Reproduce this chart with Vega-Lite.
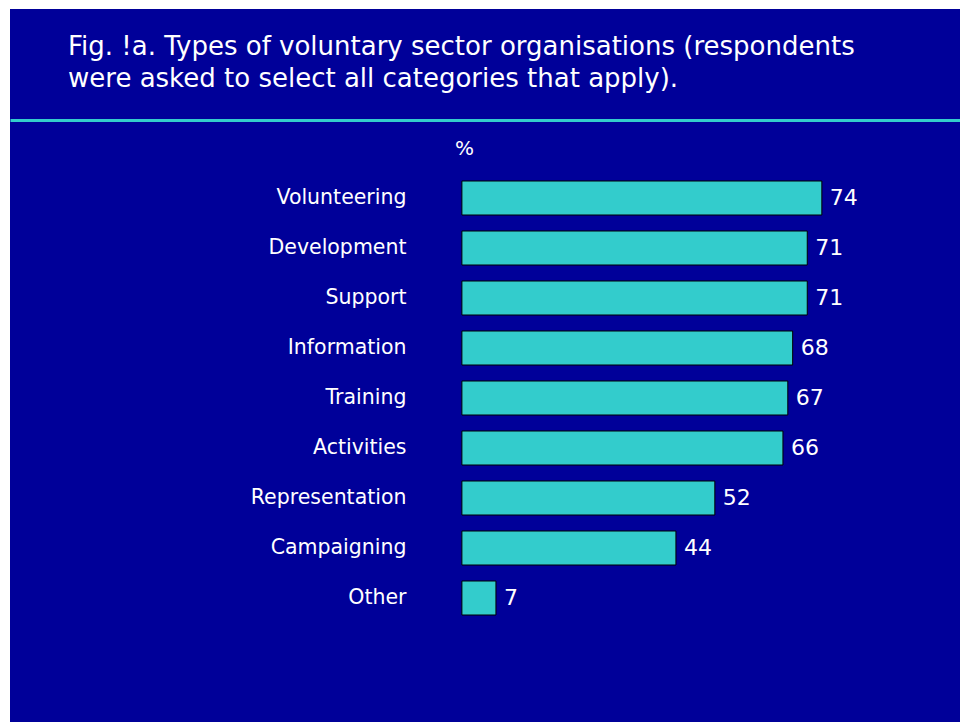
{
  "$schema": "https://vega.github.io/schema/vega-lite/v6.json",
  "width": 950,
  "height": 713,
  "autosize": {"type": "none"},
  "padding": {"left": 10, "top": 9, "right": 0, "bottom": 0},
  "background": "white",
  "config": {
    "view": {"fill": "#000099", "stroke": null},
    "font": "DejaVu Sans"
  },
  "title": {
    "text": ["Fig. !a. Types of voluntary sector organisations (respondents", "were asked to select all categories that apply)."],
    "anchor": "start",
    "orient": "top",
    "frame": "group",
    "baseline": "alphabetic",
    "offset": -104,
    "dx": 58,
    "font": "DejaVu Sans",
    "fontSize": 26,
    "fontWeight": "normal",
    "color": "white",
    "lineHeight": 32
  },
  "data": {
    "values": [
      {"category": "Volunteering", "pct": 74},
      {"category": "Development", "pct": 71},
      {"category": "Support", "pct": 71},
      {"category": "Information", "pct": 68},
      {"category": "Training", "pct": 67},
      {"category": "Activities", "pct": 66},
      {"category": "Representation", "pct": 52},
      {"category": "Campaigning", "pct": 44},
      {"category": "Other", "pct": 7}
    ]
  },
  "encoding": {
    "y": {
      "field": "category",
      "type": "nominal",
      "sort": null,
      "scale": {"range": [164, 614], "paddingInner": 0.32, "paddingOuter": 0.16},
      "axis": {
        "orient": "left",
        "offset": -452,
        "title": null,
        "ticks": false,
        "domain": false,
        "labelPadding": 56,
        "labelColor": "white",
        "labelFontSize": 20.5,
        "labelFont": "DejaVu Sans"
      }
    },
    "x": {
      "field": "pct",
      "type": "quantitative",
      "scale": {"domain": [-92.9, 102.4], "nice": false, "zero": false},
      "axis": {
        "orient": "top",
        "offset": -111,
        "labels": false,
        "ticks": false,
        "grid": false,
        "domainColor": "#33CCCC",
        "domainWidth": 3,
        "title": "%",
        "titleX": 454,
        "titleY": 28,
        "titleAlign": "center",
        "titleBaseline": "middle",
        "titleColor": "white",
        "titleFontWeight": "normal",
        "titleFontSize": 20,
        "titleFont": "DejaVu Sans"
      }
    }
  },
  "layer": [
    {
      "mark": {"type": "bar", "fill": "#33CCCC", "stroke": "#000000", "strokeWidth": 1}
    },
    {
      "mark": {"type": "text", "align": "left", "baseline": "middle", "dx": 8, "fontSize": 22, "color": "white", "font": "DejaVu Sans"},
      "encoding": {"text": {"field": "pct", "type": "quantitative"}}
    }
  ]
}
